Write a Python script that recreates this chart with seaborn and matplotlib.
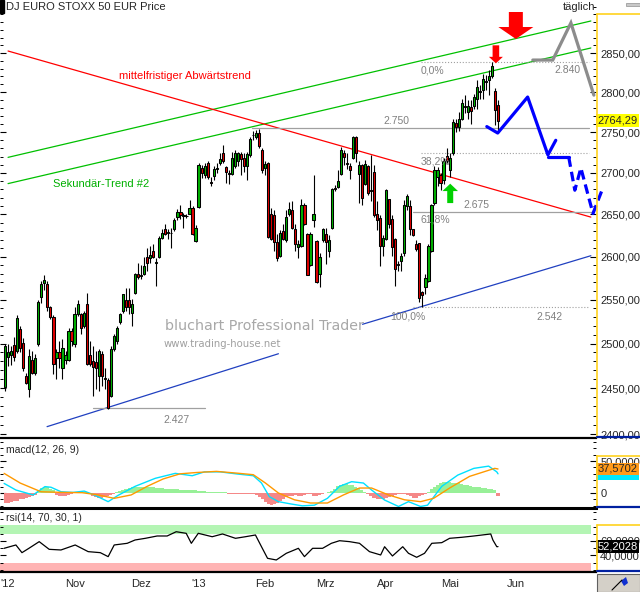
import numpy as np
import pandas as pd
import matplotlib
matplotlib.use("Agg")
import matplotlib.pyplot as plt
import matplotlib.transforms as mtransforms
from matplotlib.patches import Polygon, Rectangle
from matplotlib.lines import Line2D
from matplotlib.ticker import FixedLocator, NullFormatter, FuncFormatter
import seaborn as sns

# daily candles, 1 Oct 2012 .. 24 May 2013 (trading-day index)
opens = [
    2451, 2485, 2487, 2498, 2492, 2516, 2501, 2464, 2449, 2482,
    2467, 2499, 2553, 2569, 2568, 2541, 2530, 2484, 2490, 2473,
    2482, 2482, 2514, 2500, 2534, 2533, 2520, 2545, 2487, 2480,
    2479, 2464, 2488, 2461, 2459, 2442, 2494, 2503, 2524, 2537,
    2550, 2549, 2535, 2558, 2580, 2577, 2580, 2599, 2598, 2606,
    2592, 2599, 2622, 2632, 2628, 2628, 2633, 2647, 2653, 2649,
    2648, 2651, 2658, 2618, 2659, 2706, 2697, 2712, 2689, 2696,
    2705, 2712, 2724, 2707, 2700, 2699, 2709, 2715, 2723, 2718,
    2708, 2722, 2746, 2744, 2749, 2728, 2706, 2712, 2650, 2649,
    2617, 2601, 2630, 2619, 2651, 2655, 2633, 2611, 2613, 2661,
    2627, 2590, 2643, 2618, 2580, 2619, 2627, 2607, 2634, 2682,
    2683, 2699, 2724, 2712, 2708, 2718, 2744, 2699, 2710, 2687,
    2709, 2679, 2701, 2651, 2646, 2612, 2621, 2668, 2644, 2621,
    2591, 2595, 2604, 2660, 2660, 2632, 2615, 2616, 2559, 2565,
    2572, 2607, 2663, 2695, 2697, 2691, 2721, 2703, 2724, 2761,
    2756, 2767, 2783, 2775, 2782, 2783, 2791, 2800, 2803, 2814,
    2816, 2821, 2802, 2784]
highs = [
    2500, 2500, 2497, 2507, 2532, 2520, 2506, 2467, 2494, 2492,
    2488, 2549, 2572, 2579, 2571, 2543, 2532, 2494, 2503, 2505,
    2492, 2517, 2517, 2541, 2549, 2535, 2537, 2558, 2503, 2497,
    2492, 2494, 2492, 2472, 2461, 2497, 2511, 2520, 2535, 2557,
    2563, 2563, 2551, 2581, 2593, 2590, 2599, 2610, 2613, 2615,
    2598, 2624, 2633, 2638, 2633, 2634, 2646, 2656, 2661, 2652,
    2651, 2667, 2660, 2637, 2712, 2710, 2712, 2715, 2695, 2709,
    2712, 2724, 2734, 2709, 2703, 2725, 2728, 2725, 2725, 2724,
    2725, 2744, 2752, 2753, 2754, 2730, 2714, 2713, 2658, 2655,
    2627, 2631, 2639, 2655, 2665, 2666, 2639, 2619, 2669, 2663,
    2628, 2629, 2697, 2619, 2604, 2634, 2634, 2625, 2682, 2685,
    2703, 2732, 2728, 2724, 2712, 2745, 2745, 2714, 2711, 2716,
    2710, 2722, 2710, 2666, 2649, 2625, 2681, 2669, 2649, 2622,
    2595, 2604, 2667, 2675, 2667, 2633, 2619, 2616, 2560, 2580,
    2615, 2662, 2708, 2707, 2700, 2718, 2730, 2724, 2766, 2767,
    2775, 2791, 2796, 2790, 2790, 2798, 2816, 2809, 2823, 2822,
    2828, 2838, 2806, 2790]
lows = [
    2447, 2475, 2476, 2480, 2489, 2490, 2469, 2455, 2440, 2466,
    2465, 2497, 2546, 2561, 2537, 2528, 2466, 2460, 2473, 2460,
    2477, 2480, 2497, 2496, 2531, 2511, 2517, 2476, 2475, 2442,
    2449, 2447, 2453, 2449, 2427, 2440, 2492, 2500, 2522, 2535,
    2537, 2534, 2520, 2557, 2574, 2574, 2579, 2583, 2593, 2598,
    2566, 2598, 2621, 2625, 2621, 2610, 2630, 2643, 2645, 2634,
    2646, 2650, 2626, 2617, 2658, 2694, 2694, 2692, 2684, 2691,
    2700, 2710, 2712, 2688, 2686, 2697, 2706, 2709, 2697, 2701,
    2691, 2719, 2740, 2742, 2731, 2700, 2697, 2622, 2619, 2607,
    2595, 2599, 2619, 2617, 2648, 2633, 2607, 2598, 2611, 2637,
    2578, 2589, 2635, 2569, 2564, 2617, 2591, 2599, 2633, 2678,
    2682, 2698, 2710, 2705, 2693, 2717, 2713, 2663, 2661, 2685,
    2673, 2666, 2647, 2631, 2589, 2601, 2619, 2634, 2601, 2566,
    2583, 2583, 2601, 2655, 2625, 2624, 2607, 2547, 2542, 2557,
    2570, 2605, 2661, 2684, 2679, 2687, 2712, 2695, 2722, 2750,
    2752, 2765, 2774, 2767, 2760, 2779, 2779, 2791, 2791, 2803,
    2797, 2818, 2759, 2753]
closes = [
    2497, 2491, 2492, 2485, 2529, 2495, 2472, 2456, 2486, 2467,
    2484, 2547, 2568, 2573, 2541, 2530, 2477, 2490, 2484, 2495,
    2487, 2514, 2503, 2533, 2545, 2518, 2535, 2477, 2477, 2474,
    2472, 2492, 2464, 2460, 2428, 2494, 2508, 2518, 2534, 2556,
    2542, 2542, 2545, 2580, 2576, 2578, 2589, 2592, 2602, 2600,
    2594, 2622, 2628, 2627, 2628.5, 2627.5, 2643, 2653, 2649, 2648.5,
    2648.5, 2658, 2627, 2634, 2710, 2700, 2708, 2695, 2688, 2705,
    2706, 2717, 2714, 2701, 2699, 2718, 2724, 2724, 2717, 2708,
    2723, 2742, 2746.5, 2749, 2733, 2703, 2711, 2623, 2621, 2617,
    2598, 2628, 2621, 2647, 2656, 2634, 2615, 2615, 2661, 2639,
    2579, 2627, 2651, 2570, 2599, 2632, 2617, 2619, 2681, 2680,
    2690, 2728, 2719, 2711, 2704, 2744, 2724, 2710, 2670, 2711,
    2676, 2678, 2649, 2643, 2612, 2622, 2679, 2639, 2611, 2586,
    2590, 2601, 2661, 2672, 2633, 2625, 2609, 2552, 2555, 2575,
    2613, 2661, 2703, 2703, 2688, 2715, 2715, 2718, 2763, 2756,
    2767, 2786, 2782, 2783, 2776, 2794, 2807, 2801, 2817, 2813,
    2821, 2834, 2778, 2764.29]

month_labels = ["'12", "Nov", "Dez", "'13", "Feb", "Mrz", "Apr", "Mai", "Jun"]
month_days = [1, 23, 45, 64, 86, 106, 126, 147, 169]
price_ticks = [2400, 2450, 2500, 2550, 2600, 2650, 2700, 2750, 2800, 2850]

# macd(12,26,9): line, signal, histogram
macd_days = [-0.3, 3.6, 9.3, 13.2, 15.2, 18.5, 22.5, 26.2, 29.5, 34.1, 37.4, 43, 49.7, 56.3,
             61.9, 65.9, 71.2, 76.8, 82.1, 84.8, 87.4, 90.4, 94.4, 98.3, 102.3, 106.6,
             110.6, 114.6, 118.5, 121.2, 125.5, 130.1, 133.4, 137.4, 139.7, 144.4, 149.7,
             155, 159.9, 162.6, 163]
macd_vals = [15, 4.7, -3, 10, 9, 2, 1, 3, -3, -13.5, -3.6, 10.4, 23, 30.7,
             27, 33, 33, 29.7, 27, 15.6, -5.7, -13.5, -17, -20, -19, -8.3,
             10.4, 17.7, 15.6, 4.7, -11, -21, -13.5, -21, -19, 10.4, 28,
             38.5, 42, 33, 30]
signal_days = [-0.3, 5, 11.9, 18.5, 25.5, 30.8, 36.1, 41.7, 47, 52.3, 57.9, 63.2, 69.9,
               76.8, 82.1, 86.1, 90.4, 95.7, 101, 106.6, 111.9, 117.2, 121.2, 126.8,
               132.1, 137.4, 141.7, 147, 153.6, 161.9, 163]
signal_vals = [30.7, 15.6, 2, 1, 0.5, -3, -8.3, -3, 10.4, 22, 30, 32, 33.8,
               31, 28.6, 15.6, 0, -10.6, -15.6, -15.6, -3, 7.8, 7.8, -3,
               -10.6, -13.5, -8.3, 7.8, 26, 38.5, 37.5702]
hist_vals = [
    -16, -15, -14, -13, -12, -10, -9, -7, -6, -4, -3,
    4, 8, 10, 9, 7, 4,
    -3, -5, -5, -4, -3, -2,
    1, 2, 2, 2, 1,
    -2, -4, -6, -7, -7, -6, -5, -3, -2,
    1, 3, 5, 7, 8, 9, 10, 10, 10, 10, 9, 9, 9, 8, 8, 8, 7, 7, 6, 6, 6, 5, 5, 5,
    4, 4, 4, 3, 3, 3, 2, 2, 2, 1, 1, 1, 1,
    -1, -1, -2, -2, -2, -1, -1, -2, -2,
    -3, -6, -10, -14, -17, -18, -17, -15, -12, -9, -6,
    -5, -4, -3, -4, -5, -3, -2, -1, -4, -5, -3, -1, 0, 1,
    3, 7, 11, 13, 14, 14, 13, 12, 10, 8, 5, 2,
    -2, -5, -8, -10, -10, -9, -8, -6, -5, -3, -2, -1,
    -1, -3, -5, -7, -7, -5, -3, -1,
    2, 6, 10, 13, 15, 17, 17, 17, 16, 16, 15, 14, 13, 12, 11, 10, 9, 9, 8, 8, 7, 6, 5,
    -5]

# rsi(14)
rsi_days = [-0.3, 3.6, 5.6, 7.9, 11.3, 14.6, 18.5, 23.2, 27.5, 31.5, 34.1, 36.1, 40.4, 43,
            46.4, 50.3, 53.6, 56.6, 59.9, 61.6, 63.9, 68.5, 71.9, 76.2, 79.5, 82.8, 84.8,
            86.8, 89.7, 93, 97, 99, 101.7, 105, 107.9, 110.6, 113.9, 117.2, 120.5, 124.2,
            125.5, 128.1, 131.5, 133.4, 136.1, 138.7, 141.1, 144.4, 147, 151, 155, 160.6,
            161.3, 162.6, 163]
rsi_vals = [49.9, 54.5, 43.9, 49.9, 59.1, 48.5, 47.6, 54.5, 45.3, 43.9, 38.4, 54.5, 56.8, 61.4,
            63.7, 66.9, 66.9, 72.8, 70.6, 56.8, 70.6, 65.9, 69.7, 63.7, 65.9, 68.3, 52.1,
            36.1, 33.8, 43, 49.9, 38.4, 49.9, 49.9, 56.8, 60.4, 59.1, 56.8, 45.3, 40.7,
            52.1, 39.3, 52.1, 43, 37.5, 43, 56.8, 57.7, 63.7, 65.1, 66.9, 69.7,
            61.4, 52.1, 52.2028]

# drawn trend lines: (day, price) end points
green_upper = ([1.0, 193.7], [2719, 2891.5])
green_lower = ([1.0, 193.7], [2687, 2856.5])
red_down = ([1.0, 193.7], [2852.6, 2646.7])
blue_low1 = ([13.9, 90.4], [2408, 2488.5])
blue_low2 = ([118.2, 193.7], [2521.8, 2601])
grey_proj = ([174.5, 181.1, 187.1, 194.7], [2841, 2841, 2889, 2796.4])
blue_proj = ([159.3, 162.9, 172.8, 179.5, 182.1], [2757, 2749, 2794, 2722, 2740])
blue_flat = ([179.5, 186.4], [2719, 2719])
blue_dash = ([186.4, 188.4, 190.4, 194.4, 197.7], [2719, 2679, 2706, 2651, 2682])

# horizontal levels: price, start day, end day, style
levels = [(2755, 81.8, 193.0, '-'), (2653, 134.8, 194.7, '-'), (2428, 29.1, 66.2, '-'),
          (2541, 134.8, 193.0, ':'), (2724, 137.4, 193.0, ':'), (2838, 137.4, 193.0, ':')]
level_text = [("2.750", 125.2, 2763.7), ("2.675", 151.7, 2660.6), ("61,8%", 137.4, 2643.9),
              ("38,2%", 137.4, 2714.2), ("0,0%", 137.4, 2828.2), ("2.840", 181.5, 2828.2),
              ("100,0%", 127.5, 2530.5), ("2.542", 175.8, 2530.5), ("2.427", 52.3, 2415.6)]

# arrows: tip (day, price), outline in pixels relative to tip
big_arrow = (168.9, 2868.1, [(0, 0), (-17.5, 12), (-7, 12), (-7, 27), (7, 27), (7, 12), (17.5, 12)])
small_arrow = (162.3, 2836.8, [(0, 0), (-7, 6.5), (-3.3, 6.5), (-3.3, 18), (3.3, 18), (3.3, 6.5), (7, 6.5)])
up_arrow = (147.2, 2686.9, [(0, 0), (-7.8, -7.4), (-3, -7.4), (-3, -19.4), (3, -19.4), (3, -7.4), (7.8, -7.4)])

last_price = 2764.29
last_signal = 37.5702
last_rsi = 52.2028

df = pd.DataFrame({'open': opens, 'high': highs, 'low': lows, 'close': closes})
df['day'] = np.arange(len(df))
df['up'] = df['close'] >= df['open']

sns.set_theme(style='white')
plt.rcParams['font.family'] = ['Liberation Sans', 'DejaVu Sans']

W, H = 640, 592
fig = plt.figure(figsize=(6.4, 5.92), dpi=100)
fig.patch.set_facecolor('white')


def box(x0, y0, x1, y1):
    return [x0 / W, 1 - y1 / H, (x1 - x0) / W, (y1 - y0) / H]


ax = fig.add_axes(box(0, 0, 596, 438))
ax_m = fig.add_axes(box(0, 441, 596, 508))
ax_r = fig.add_axes(box(0, 511, 596, 572))

GREEN, RED = '#00b000', '#e00000'

# candles
ax.vlines(df['day'], df['low'], df['high'], color='black', lw=0.8, zorder=2)
body_lo = df[['open', 'close']].min(axis=1)
body_h = (df['close'] - df['open']).abs()
ax.bar(df['day'], body_h, bottom=body_lo, width=0.72,
       color=np.where(df['up'], GREEN, RED), edgecolor='black', linewidth=0.75, zorder=3)

# trend lines
ax.plot(*green_upper, color='#00c000', lw=0.9, zorder=1)
ax.plot(*green_lower, color='#00c000', lw=0.9, zorder=1)
ax.plot(*red_down, color='#ff0000', lw=0.9, zorder=1)
ax.plot(*blue_low1, color='#2040c0', lw=0.9, zorder=1)
ax.plot(*blue_low2, color='#2040c0', lw=0.9, zorder=1)
for p, d0, d1, ls in levels:
    ax.plot([d0, d1], [p, p], color='#a0a0a0', lw=0.9 if ls == '-' else 0.8, ls=ls, zorder=1)
for txt, d, p in level_text:
    ax.text(d, p, txt, color='#808080', fontsize=7.5, ha='left', va='center')

ax.plot(*grey_proj, color='#8c8c8c', lw=2.3, zorder=4, clip_on=False, solid_joinstyle='miter')
ax.plot(*blue_proj, color='#0000ff', lw=2.3, zorder=4)
ax.plot(*blue_flat, color='#0000ff', lw=2.3, zorder=4)
ax.plot(*blue_dash, color='#0000ff', lw=2.3, ls=(0, (3, 1.6)), zorder=4, clip_on=False)

ax.text(37.7, 2820.5, 'mittelfristiger Abwärtstrend', color='#ff0000', fontsize=8, va='center')
ax.text(15.9, 2687, 'Sekundär-Trend #2', color='#00b000', fontsize=8, va='center')
ax.text(53, 2519.4, 'bluchart Professional Trader', color='#a8a8a8', fontsize=10.3,
        family='DejaVu Sans', va='center')
ax.text(52.3, 2499.8, 'www.trading-house.net', color='#a0a0a0', fontsize=7.3,
        family='DejaVu Sans', va='center')

for tip_d, tip_p, verts, col in [(*big_arrow, '#ff0000'), (*small_arrow, '#ff0000'), (*up_arrow, '#00d000')]:
    tr = fig.dpi_scale_trans + mtransforms.ScaledTranslation(tip_d, tip_p, ax.transData)
    fig.add_artist(Polygon(np.array(verts) / 100.0, closed=True, transform=tr,
                           fc=col, ec='none', zorder=6))

# macd panel
ax_m.bar(np.arange(len(hist_vals)), hist_vals, width=1.0, linewidth=0,
         color=['#98f098' if v > 0 else '#f58888' for v in hist_vals], zorder=1)
sns.lineplot(x=signal_days, y=signal_vals, ax=ax_m, color='#ff9900', lw=1.0, zorder=3)
sns.lineplot(x=macd_days, y=macd_vals, ax=ax_m, color='#00e0ff', lw=1.0, zorder=2)

# rsi panel
ax_r.axhspan(70, 81.7, xmax=591 / 596, color='#b4f5b4', lw=0, zorder=0)
ax_r.axhspan(17.2, 30, xmax=591 / 596, color='#ffb4b4', lw=0, zorder=0)
sns.lineplot(x=rsi_days, y=rsi_vals, ax=ax_r, color='black', lw=0.9, zorder=2)


def comma(fmt):
    return FuncFormatter(lambda v, pos: fmt.format(v).replace('.', ','))


ax.set_yscale('log')
ax.set_ylim(2395.7, 2919)
ax.yaxis.set_major_locator(FixedLocator(price_ticks))
ax.yaxis.set_minor_locator(FixedLocator(np.arange(2390, 2920, 10)))
ax.yaxis.set_major_formatter(comma('{:.2f}'))
ax.yaxis.set_minor_formatter(NullFormatter())

ax_m.set_ylim(-23.4, 81.25)
ax_m.yaxis.set_major_locator(FixedLocator([0, 50]))
ax_m.yaxis.set_minor_locator(FixedLocator([-20, -10, 10, 20, 30, 40, 60, 70, 80]))
ax_m.yaxis.set_major_formatter(FuncFormatter(lambda v, pos: '0' if v == 0 else f'{v:.4f}'.replace('.', ',')))

ax_r.set_ylim(17.2, 101.4)
ax_r.yaxis.set_major_locator(FixedLocator([40, 60]))
ax_r.yaxis.set_minor_locator(FixedLocator([20, 30, 50, 70, 80, 90, 100]))
ax_r.yaxis.set_major_formatter(comma('{:.4f}'))

for a, lw in [(ax, 1.6), (ax_m, 2.2), (ax_r, 1.6)]:
    a.set_xlim(-1.66, 195.4)
    a.set_facecolor('white')
    a.grid(False)
    a.set_xlabel('')
    a.set_ylabel('')
    for side in ['top', 'left', 'right']:
        a.spines[side].set_visible(False)
    a.spines['bottom'].set_color('black')
    a.spines['bottom'].set_linewidth(lw)
    a.tick_params(axis='y', which='both', left=True, right=True, labelleft=False,
                  labelright=True, direction='in', length=4, width=0.8, color='black',
                  labelsize=8, pad=3)
    a.tick_params(axis='y', which='minor', length=2, width=0.7)
    a.tick_params(axis='x', which='both', bottom=False, top=False, labelbottom=False)

ax_r.set_xticks(month_days)
ax_r.set_xticklabels(month_labels)
ax_r.tick_params(axis='x', labelbottom=True, labelsize=8, length=0, pad=5)

# value tags on the right scale
blend = mtransforms.blended_transform_factory(ax.transAxes, ax.transData)
ax.text(1.003, last_price, f'{last_price:.2f}'.replace('.', ','), transform=blend, fontsize=8,
        va='center', ha='left', clip_on=False, zorder=8,
        bbox=dict(boxstyle='square,pad=0.12', fc='#ffff00', ec='none'))
blend_m = mtransforms.blended_transform_factory(ax_m.transAxes, ax_m.transData)
ax_m.text(1.003, 31, '37,5702', transform=blend_m, fontsize=8, color='#00e8ff', va='center',
          ha='left', clip_on=False, zorder=7,
          bbox=dict(boxstyle='square,pad=0.12', fc='#00e8ff', ec='none'))
ax_m.text(1.003, last_signal, f'{last_signal:.4f}'.replace('.', ','), transform=blend_m, fontsize=8,
          va='center', ha='left', clip_on=False, zorder=8,
          bbox=dict(boxstyle='square,pad=0.12', fc='#ff9a1a', ec='none'))
blend_r = mtransforms.blended_transform_factory(ax_r.transAxes, ax_r.transData)
ax_r.text(1.003, last_rsi, f'{last_rsi:.4f}'.replace('.', ','), transform=blend_r, fontsize=8,
          color='white', va='center', ha='left', clip_on=False, zorder=8,
          bbox=dict(boxstyle='square,pad=0.12', fc='black', ec='none'))

# frame of the price scales
for y_top, y_bot in [(14, 437), (456, 507), (525, 571)]:
    fig.add_artist(Line2D([596.5 / W, 596.5 / W], [1 - y_top / H, 1 - y_bot / H], color='#ffd21e', lw=1.2))
    fig.add_artist(Line2D([596.5 / W, 1], [1 - y_top / H, 1 - y_top / H], color='#ffd21e', lw=1.2))
    fig.add_artist(Line2D([596.5 / W, 1], [1 - y_bot / H, 1 - y_bot / H], color='#0020a0', lw=1.6))

fig.add_artist(Rectangle((0, 1 - 13 / H), 4 / W, 13 / H, transform=fig.transFigure, color='black'))
fig.text(6 / W, 1 - 7 / H, 'DJ EURO STOXX 50 EUR Price', fontsize=8, va='center', ha='left')
fig.text(563 / W, 1 - 7 / H, 'täglich', fontsize=8, va='center', ha='left')
fig.add_artist(Rectangle((626 / W, 1 - 6 / H), 14 / W, 3 / H, transform=fig.transFigure,
                         fc='#c8c8c8', ec='#909090', lw=0.5))
fig.text(6 / W, 1 - 450 / H, 'macd(12, 26, 9)', fontsize=7.5, va='center', ha='left')
fig.text(6 / W, 1 - 518 / H, 'rsi(14, 70, 30, 1)', fontsize=7.5, va='center', ha='left')

fig.add_artist(Rectangle((596.5 / W, 0), 43.5 / W, 18 / H, transform=fig.transFigure,
                         fc='#d4d0c8', ec='#606060', lw=0.8))
fig.add_artist(Line2D([612 / W, 622 / W], [1 - 590 / H, 1 - 580 / H], color='black', lw=0.8))
fig.add_artist(Polygon([(621 / W, 1 - 581 / H), (626 / W, 1 - 577 / H), (628 / W, 1 - 583 / H),
                        (624 / W, 1 - 586 / H)], closed=True, transform=fig.transFigure,
                       fc='#1030d0', ec='none'))

fig.savefig('out.png', dpi=100)
